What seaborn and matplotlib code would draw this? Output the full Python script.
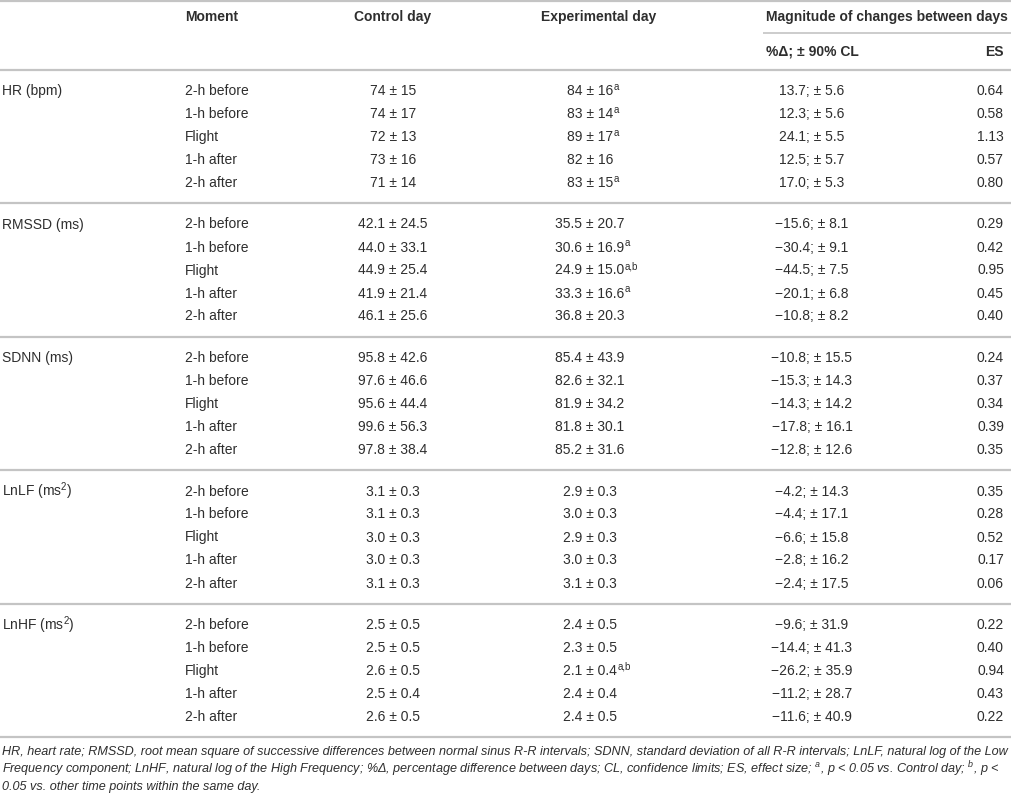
import matplotlib
matplotlib.use("Agg")
import matplotlib.pyplot as plt
import seaborn as sns

# table content
variables = ["HR (bpm)", "RMSSD (ms)", "SDNN (ms)", "LnLF (ms$^{2}$)", "LnHF (ms$^{2}$)"]
decimals = [0, 1, 1, 1, 1]
moments = ["2-h before", "1-h before", "Flight", "1-h after", "2-h after"]

control_mean = [[74, 74, 72, 73, 71],
                [42.1, 44.0, 44.9, 41.9, 46.1],
                [95.8, 97.6, 95.6, 99.6, 97.8],
                [3.1, 3.1, 3.0, 3.0, 3.1],
                [2.5, 2.5, 2.6, 2.5, 2.6]]
control_sd = [[15, 17, 13, 16, 14],
              [24.5, 33.1, 25.4, 21.4, 25.6],
              [42.6, 46.6, 44.4, 56.3, 38.4],
              [0.3, 0.3, 0.3, 0.3, 0.3],
              [0.5, 0.5, 0.5, 0.4, 0.5]]
exp_mean = [[84, 83, 89, 82, 83],
            [35.5, 30.6, 24.9, 33.3, 36.8],
            [85.4, 82.6, 81.9, 81.8, 85.2],
            [2.9, 3.0, 2.9, 3.0, 3.1],
            [2.4, 2.3, 2.1, 2.4, 2.4]]
exp_sd = [[16, 14, 17, 16, 15],
          [20.7, 16.9, 15.0, 16.6, 20.3],
          [43.9, 32.1, 34.2, 30.1, 31.6],
          [0.3, 0.3, 0.3, 0.3, 0.3],
          [0.5, 0.5, 0.4, 0.4, 0.5]]
exp_flag = [["a", "a", "a", "", "a"],
            ["", "a", "a,b", "a", ""],
            ["", "", "", "", ""],
            ["", "", "", "", ""],
            ["", "", "a,b", "", ""]]
pct_change = [[13.7, 12.3, 24.1, 12.5, 17.0],
              [-15.6, -30.4, -44.5, -20.1, -10.8],
              [-10.8, -15.3, -14.3, -17.8, -12.8],
              [-4.2, -4.4, -6.6, -2.8, -2.4],
              [-9.6, -14.4, -26.2, -11.2, -11.6]]
cl90 = [[5.6, 5.6, 5.5, 5.7, 5.3],
        [8.1, 9.1, 7.5, 6.8, 8.2],
        [15.5, 14.3, 14.2, 16.1, 12.6],
        [14.3, 17.1, 15.8, 16.2, 17.5],
        [31.9, 41.3, 35.9, 28.7, 40.9]]
effect_size = [[0.64, 0.58, 1.13, 0.57, 0.80],
               [0.29, 0.42, 0.95, 0.45, 0.40],
               [0.24, 0.37, 0.34, 0.39, 0.35],
               [0.35, 0.28, 0.52, 0.17, 0.06],
               [0.22, 0.40, 0.94, 0.43, 0.22]]

headers = ["Moment", "Control day", "Experimental day", "Magnitude of changes between days"]
subheaders = ["%\u0394; \u00b1 90% CL", "ES"]
footnote = [
    "HR, heart rate; RMSSD, root mean square of successive differences between normal sinus R-R intervals; SDNN, standard deviation of all R-R intervals; LnLF, natural log of the Low",
    "Frequency component; LnHF, natural log of the High Frequency; %\u0394, percentage difference between days; CL, confidence limits; ES, effect size; $^{\\mathregular{a}}$, p < 0.05 vs. Control day; $^{\\mathregular{b}}$, p <",
    "0.05 vs. other time points within the same day.",
]

sns.set_theme(style="white")
plt.rcParams['font.family'] = ['Liberation Sans', 'DejaVu Sans']
plt.rcParams['mathtext.fontset'] = 'custom'
plt.rcParams['mathtext.rm'] = 'Liberation Sans'
plt.rcParams['mathtext.it'] = 'Liberation Sans:italic'
plt.rcParams['mathtext.bf'] = 'Liberation Sans:bold'

TXT = '#2e2e2e'
LINE = '#c4c4c4'
FS = 10


def fmt(v, d):
    return f"{v:.{d}f}".replace("-", "\u2212")


fig = plt.figure(figsize=(10.12, 7.95), dpi=100)
ax = fig.add_axes([0, 0, 1, 1])
ax.set_xlim(0, 1012)
ax.set_ylim(795, 0)
ax.axis('off')

x_var, x_mom, x_ctl, x_exp, x_mag, x_es = 2, 185, 393, 590, 812, 1004

# header
ax.text(x_mom, 17, headers[0], fontsize=FS, fontweight='bold', color=TXT, va='center', ha='left')
ax.text(x_ctl, 17, headers[1], fontsize=FS, fontweight='bold', color=TXT, va='center', ha='center')
ax.text(599, 17, headers[2], fontsize=FS, fontweight='bold', color=TXT, va='center', ha='center')
ax.text(766, 17, headers[3], fontsize=FS, fontweight='bold', color=TXT, va='center', ha='left')
ax.text(766, 52, subheaders[0], fontsize=FS, fontweight='bold', color=TXT, va='center', ha='left')
ax.text(x_es, 52, subheaders[1], fontsize=FS, fontweight='bold', color=TXT, va='center', ha='right')

ax.hlines(1, 0, 1012, color=LINE, lw=1.6)
ax.hlines(33, 763, 1012, color=LINE, lw=1.2)
ax.hlines(70, 0, 1012, color=LINE, lw=1.6)

for k, var in enumerate(variables):
    y0 = 91 + 133.5 * k
    d = decimals[k]
    ax.text(x_var, y0, var, fontsize=FS, color=TXT, va='center', ha='left')
    for i, mom in enumerate(moments):
        y = y0 + 23 * i
        ax.text(x_mom, y, mom, fontsize=FS, color=TXT, va='center', ha='left')
        ax.text(x_ctl, y, f"{fmt(control_mean[k][i], d)} \u00b1 {fmt(control_sd[k][i], d)}",
                fontsize=FS, color=TXT, va='center', ha='center')
        t = ax.text(x_exp, y, f"{fmt(exp_mean[k][i], d)} \u00b1 {fmt(exp_sd[k][i], d)}",
                    fontsize=FS, color=TXT, va='center', ha='center')
        if exp_flag[k][i]:
            ax.annotate(exp_flag[k][i], xy=(1, 1), xycoords=t, xytext=(0.3, 1.5),
                        textcoords='offset points', fontsize=7, color=TXT, va='top', ha='left')
        ax.text(x_mag, y, f"{fmt(pct_change[k][i], 1)}; \u00b1 {fmt(cl90[k][i], 1)}",
                fontsize=FS, color=TXT, va='center', ha='center')
        ax.text(x_es, y, f"{effect_size[k][i]:.2f}", fontsize=FS, color=TXT, va='center', ha='right')
    ax.hlines(y0 + 112, 0, 1012, color=LINE, lw=1.6)

for j, line in enumerate(footnote):
    ax.text(2, 752 + 17.5 * j, line, fontsize=9.1, style='italic', color=TXT, va='center', ha='left')

fig.savefig("out.png", dpi=100)
